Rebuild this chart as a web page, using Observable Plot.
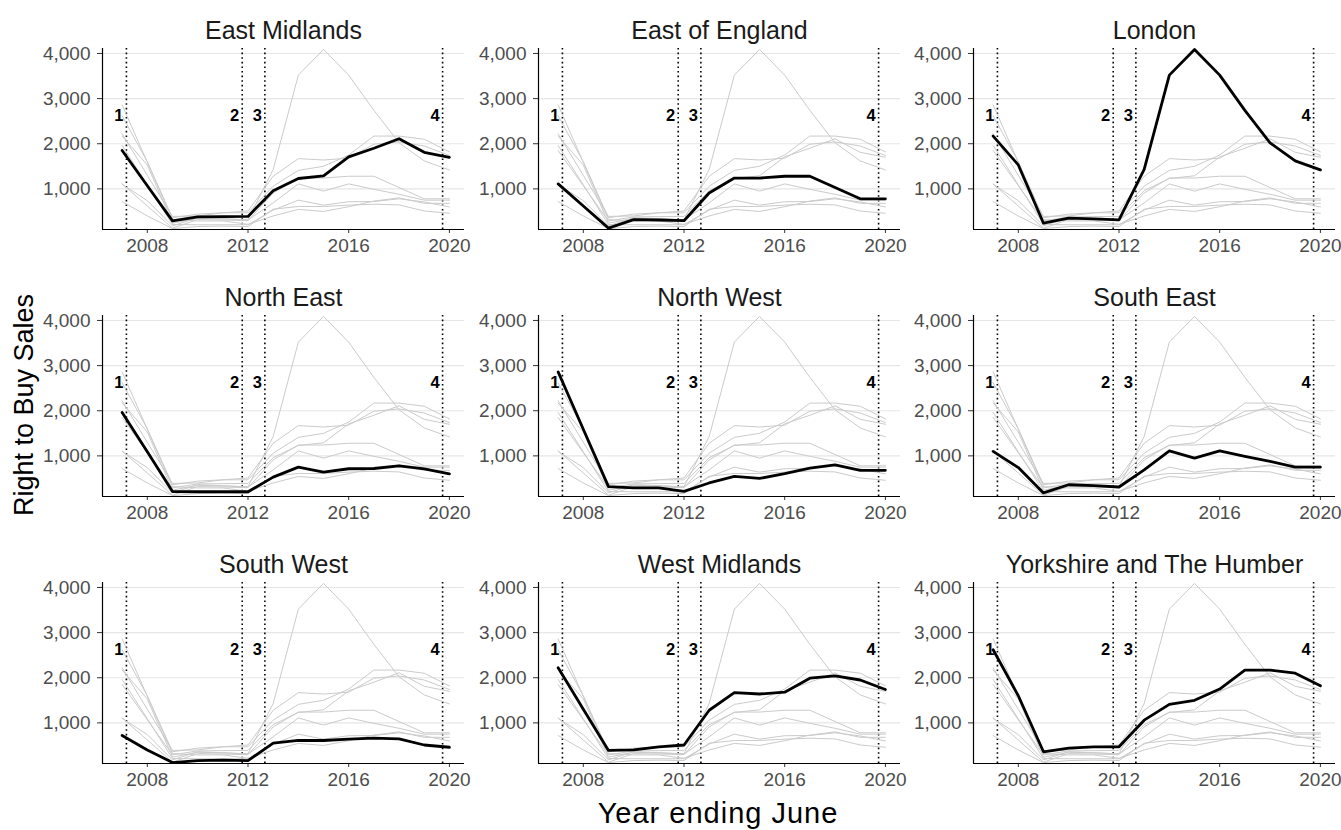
<!DOCTYPE html>
<html>
<head>
<meta charset="utf-8">
<script src="https://cdn.jsdelivr.net/npm/d3@7"></script>
<script src="https://cdn.jsdelivr.net/npm/@observablehq/plot@0.6"></script>
<style>
  html, body { margin: 0; padding: 0; background: #fff; }
  #chart { position: relative; width: 1341px; height: 830px; overflow: hidden;
           font-family: "Liberation Sans", Arial, sans-serif; background: #fff; }
  .panel { position: absolute; }
  #xtitle { position: absolute; left: 0; width: 1435px; text-align: center; font-size: 29px;
            letter-spacing: 1px; line-height: 1; color: #000; white-space: nowrap; }
  #ytitle { position: absolute; font-size: 27px; line-height: 1; color: #000; white-space: nowrap;
            transform: translate(-50%, -50%) rotate(-90deg); }
</style>
</head>
<body>
<div id="chart"></div>
<script>
// ---- data ----
const years = [2007, 2008, 2009, 2010, 2011, 2012, 2013, 2014, 2015, 2016, 2017, 2018, 2019, 2020];
const regions = ["East Midlands", "East of England", "London", "North East", "North West",
                 "South East", "South West", "West Midlands", "Yorkshire and The Humber"];
const eastMidlands   = [1850, 1070, 290, 380, 385, 390, 960, 1230, 1290, 1710, 1900, 2110, 1810, 1700];
const eastOfEngland  = [1110, 620, 130, 320, 310, 295, 910, 1240, 1240, 1280, 1280, 1030, 780, 780];
const london         = [2170, 1530, 240, 350, 335, 315, 1430, 3520, 4090, 3520, 2740, 2020, 1620, 1420];
const northEast      = [1960, 1090, 210, 205, 205, 205, 530, 750, 640, 715, 720, 780, 710, 600];
const northWest      = [2860, 1590, 320, 290, 290, 215, 400, 545, 500, 605, 730, 800, 680, 680];
const southEast      = [1100, 740, 180, 360, 340, 310, 690, 1110, 950, 1110, 990, 880, 750, 750];
const southWest      = [720, 400, 120, 165, 175, 165, 550, 610, 610, 640, 660, 645, 510, 460];
const westMidlands   = [2220, 1300, 390, 400, 470, 510, 1280, 1670, 1640, 1680, 1990, 2040, 1950, 1740];
const yorkshire      = [2620, 1600, 360, 440, 470, 470, 1060, 1410, 1500, 1750, 2170, 2170, 2100, 1820];
const seriesByRegion = [eastMidlands, eastOfEngland, london, northEast, northWest,
                        southEast, southWest, westMidlands, yorkshire];
const eventLabels = ["1", "2", "3", "4"];
const eventDates  = [2007.17, 2011.77, 2012.67, 2019.73];
const xTicks = [2008, 2012, 2016, 2020];
const yTicks = [1000, 2000, 3000, 4000];
const xTitle = "Year ending June";
const yTitle = "Right to Buy Sales";

// ---- build ----
const data = regions.flatMap((r, i) => years.map((yr, j) => ({region: r, year: yr, value: seriesByRegion[i][j]})));
const events = eventLabels.map((l, i) => ({label: l, date: eventDates[i]}));
const xDomain = [2006.22, 2020.6];
const yDomain = [100, 4110];

const chart = document.getElementById("chart");
const colLeft = [34, 470, 905];
const rowTop = [0, 267, 534];

regions.forEach((r, i) => {
  const col = i % 3, row = Math.floor(i / 3);
  const svg = Plot.plot({
    width: 435, height: 267,
    marginLeft: 68, marginRight: 5, marginTop: 48, marginBottom: 38,
    style: {background: "transparent", fontFamily: "Liberation Sans, Arial, sans-serif",
            fontSize: "19px", overflow: "visible"},
    x: {domain: xDomain, axis: null},
    y: {domain: yDomain, axis: null},
    marks: [
      Plot.gridY(yTicks, {stroke: "#e6e6e6", strokeOpacity: 1, strokeWidth: 1.1}),
      Plot.ruleX(events, {x: "date", stroke: "#000", strokeWidth: 1.6, strokeDasharray: "1.6,3"}),
      Plot.line(data, {x: "year", y: "value", z: "region", stroke: "#cbcbcb", strokeWidth: 1}),
      Plot.line(data.filter(d => d.region === r), {x: "year", y: "value", stroke: "#000", strokeWidth: 2.8}),
      Plot.text(events, {x: "date", text: "label", frameAnchor: "top", lineAnchor: "middle",
                         dy: 67, dx: -3, textAnchor: "end", fontWeight: "bold", fontSize: 16.5, fill: "#000"}),
      Plot.axisX(xTicks, {tickSize: 4, tickPadding: 4.5, label: null, stroke: "#333", fill: "#4d4d4d",
                          tickFormat: d => String(d)}),
      Plot.axisY(yTicks, {tickSize: 5, tickPadding: 7, label: null, stroke: "#333", fill: "#4d4d4d",
                          tickFormat: d3.format(",")}),
      Plot.ruleX([xDomain[0]], {stroke: "#000", strokeWidth: 1.2}),
      Plot.ruleY([yDomain[0]], {stroke: "#000", strokeWidth: 1.2}),
      Plot.text([r], {text: d => d, frameAnchor: "top", lineAnchor: "bottom", dy: -9.5,
                      fontSize: 25, fill: "#1a1a1a"})
    ]
  });
  const div = document.createElement("div");
  div.className = "panel";
  div.style.left = colLeft[col] + "px";
  div.style.top = rowTop[row] + "px";
  div.appendChild(svg);
  chart.appendChild(div);
});

const xt = document.createElement("div");
xt.id = "xtitle";
xt.textContent = xTitle;
xt.style.width = "1435px";
xt.style.left = (718 - 1435 / 2) + "px";
xt.style.top = (824 - 0.8465 * 29) + "px";
chart.appendChild(xt);

const yt = document.createElement("div");
yt.id = "ytitle";
yt.textContent = yTitle;
yt.style.left = "23.6px";
yt.style.top = "405px";
chart.appendChild(yt);
</script>
</body>
</html>
